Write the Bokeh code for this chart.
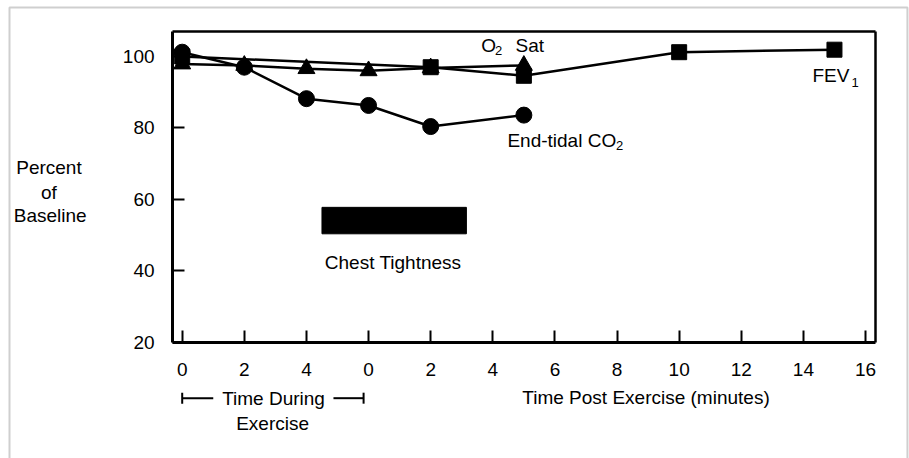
from bokeh.plotting import figure
from bokeh.models import (FixedTicker, Label, Arrow, TeeHead, Range1d, BoxAnnotation,
                          LinearAxis)
from bokeh.embed import file_html
from bokeh.resources import INLINE

# ---- data (x: exercise minutes shifted by -6 so post-exercise 0 sits at 0) ----
x_ticks = [-6, -4, -2, 0, 2, 4, 6, 8, 10, 12, 14, 16]
x_tick_labels = ["0", "2", "4", "0", "2", "4", "6", "8", "10", "12", "14", "16"]
y_ticks = [20, 40, 60, 80, 100]

fev1_t = [-6, 2, 5, 10, 15]
fev1_v = [100, 97, 94.6, 101.2, 101.9]

o2_t = [-6, -4, -2, 0, 2, 5]
o2_v = [97.9, 97.5, 96.6, 96.0, 96.8, 97.5]

co2_t = [-6, -4, -2, 0, 2, 5]
co2_v = [101.2, 97.0, 88.2, 86.3, 80.4, 83.6]

chest_start, chest_end = -1.5, 3.15
chest_low, chest_high = 50.4, 57.8

# axis extent (plot box) inside the full-canvas frame
X0, X1 = -6.31, 16.32
Y0, Y1 = 20, 107.0

FONT = "Liberation Sans"

p = figure(width=909, height=458, output_backend="svg", toolbar_location=None,
           x_range=Range1d(-11.85, 17.416), y_range=Range1d(-12.45, 115.66),
           min_border=0)
p.grid.visible = False
p.outline_line_color = None
p.background_fill_color = "white"
p.border_fill_color = "white"

xa = p.xaxis[0]
ya = p.yaxis[0]
xa.fixed_location = Y0
ya.fixed_location = X0
xa.bounds = (X0, X1)
ya.bounds = (Y0, Y1)

for ax in (xa, ya):
    ax.axis_line_width = 3
    ax.axis_line_color = "black"
    ax.major_tick_in = 12
    ax.major_tick_out = 0
    ax.major_tick_line_width = 2
    ax.minor_tick_line_color = None
    ax.major_label_text_font = FONT
    ax.major_label_text_font_size = "19px"
    ax.major_label_text_color = "black"

xa.ticker = FixedTicker(ticks=x_ticks)
xa.major_label_overrides = {t: l for t, l in zip(x_ticks, x_tick_labels)}
xa.major_label_standoff = 21
ya.ticker = FixedTicker(ticks=y_ticks)
ya.major_label_standoff = 18

# top and right edges of the plot box
top_ax = LinearAxis(fixed_location=Y1, bounds=(X0, X1), ticker=FixedTicker(ticks=[]),
                    axis_line_width=2.5, major_tick_line_color=None,
                    minor_tick_line_color=None, major_label_text_color=None)
right_ax = LinearAxis(fixed_location=X1, bounds=(Y0, Y1), ticker=FixedTicker(ticks=[]),
                      axis_line_width=2.5, major_tick_line_color=None,
                      minor_tick_line_color=None, major_label_text_color=None)
p.add_layout(top_ax, "above")
p.add_layout(right_ax, "right")

# outer grey border of the figure
p.add_layout(BoxAnnotation(left=-11.56, right=17.35, top=113.7, bottom=-20,
                           fill_color=None, fill_alpha=0, line_color="#606060",
                           line_width=2))

# chest tightness bar
p.quad(left=[chest_start], right=[chest_end], bottom=[chest_low], top=[chest_high],
       fill_color="black", line_color="black")

# series
p.line(o2_t, o2_v, line_color="black", line_width=2.5)
p.scatter(o2_t, o2_v, marker="triangle", size=17, fill_color="black", line_color="black")
p.line(fev1_t, fev1_v, line_color="black", line_width=2.5)
p.scatter(fev1_t, fev1_v, marker="square", size=15, fill_color="black", line_color="black")
p.line(co2_t, co2_v, line_color="black", line_width=2.5)
p.scatter(co2_t, co2_v, marker="circle", size=16, fill_color="black", line_color="black")


def lab(x, y, text, size="19px", align="left", baseline="middle"):
    p.add_layout(Label(x=x, y=y, text=text, text_font=FONT, text_font_size=size,
                       text_align=align, text_baseline=baseline, text_color="black"))


# in-plot labels
lab(3.63, 103.1, "O")
lab(4.07, 101.6, "2", size="13px")
lab(4.73, 103.1, "Sat")
lab(4.47, 76.5, "End-tidal CO")
lab(7.97, 75.0, "2", size="13px")
lab(14.29, 94.7, "FEV")
lab(15.55, 92.6, "1", size="13px")
lab(0.79, 42.5, "Chest Tightness", align="center")

# y-axis caption
lab(-10.29, 69.0, "Percent", align="center")
lab(-10.29, 62.0, "of", align="center")
lab(-10.25, 55.5, "Baseline", align="center")

# x-axis captions
yb = 4.42
lab(-3.06, yb, "Time During", align="center")
lab(-3.09, -2.66, "Exercise", align="center")
lab(4.95, 4.7, "Time Post Exercise (minutes)")
p.add_layout(Arrow(start=TeeHead(size=11, line_width=2), end=None,
                   x_start=-6, x_end=-5.0, y_start=yb, y_end=yb, line_width=2))
p.add_layout(Arrow(start=None, end=TeeHead(size=11, line_width=2),
                   x_start=-1.13, x_end=-0.16, y_start=yb, y_end=yb, line_width=2))

open("out.html", "w").write(file_html(p, INLINE))
